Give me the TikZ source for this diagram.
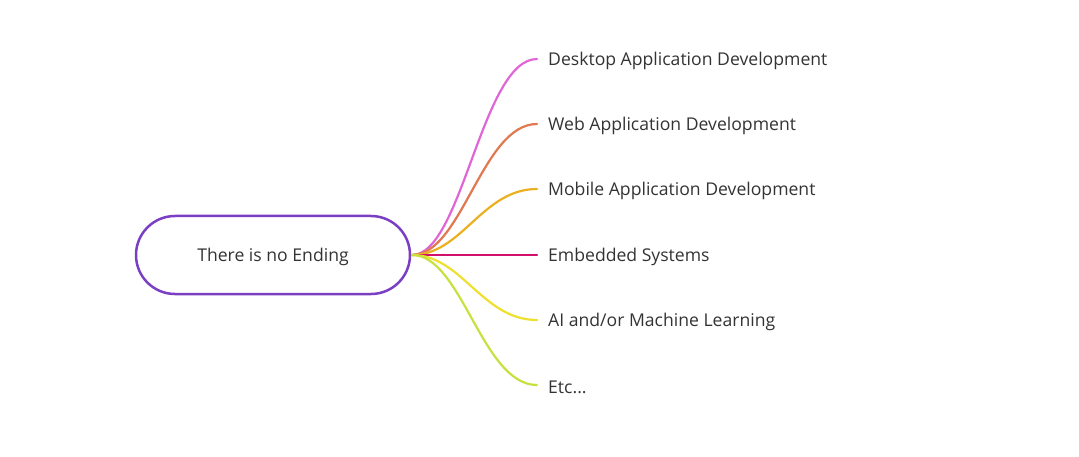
\documentclass[tikz,border=0pt]{standalone}
\usepackage{fontspec}
\setmainfont{Open Sans}
\definecolor{txt}{HTML}{333333}
\definecolor{rootc}{HTML}{7B3FC4}
\definecolor{c1}{HTML}{E066D8}
\definecolor{c2}{HTML}{E07850}
\definecolor{c3}{HTML}{EBB020}
\definecolor{c4}{HTML}{D0106A}
\definecolor{c5}{HTML}{EEE030}
\definecolor{c6}{HTML}{C8E040}
\begin{document}
\begin{tikzpicture}[x=1pt,y=-1pt,
  rootbox/.style={draw=rootc,line width=2.5pt,rounded corners=39pt,minimum width=274pt,minimum height=78pt,inner sep=0pt,text=txt,font=\fontsize{17.6}{20}\selectfont},
  leaf/.style={anchor=west,inner sep=0pt,text=txt,font=\fontsize{17.6}{20}\selectfont},
  branch/.style={line width=2.2pt,line cap=round}]
\useasboundingbox (0,0) rectangle (1079,457);
\node[rootbox] (root) at (273,255) {};
\node[text=txt,font=\fontsize{17.6}{20}\selectfont] (rt) at (273,256.5) {There is no Ending};
\coordinate (o) at (412,255);
\node[leaf] (a) at (548,61) {Desktop Application Development};
\node[leaf] (b) at (548,126) {Web Application Development};
\node[leaf] (c) at (548,191) {Mobile Application Development};
\node[leaf] (d) at (548,257) {Embedded Systems};
\node[leaf] (e) at (548,322) {AI and/or Machine Learning};
\node[leaf] (f) at (548,387) {Etc...};
\foreach \n/\c in {a/c1,b/c2,c/c3,d/c4,e/c5,f/c6}{
  \coordinate (e\n) at ([xshift=-11pt,yshift=2pt]\n.west);
  \draw[branch,draw=\c] (o) .. controls ([xshift=50pt]o) and ([xshift=-55pt]e\n) .. (e\n);
}
\end{tikzpicture}
\end{document}
